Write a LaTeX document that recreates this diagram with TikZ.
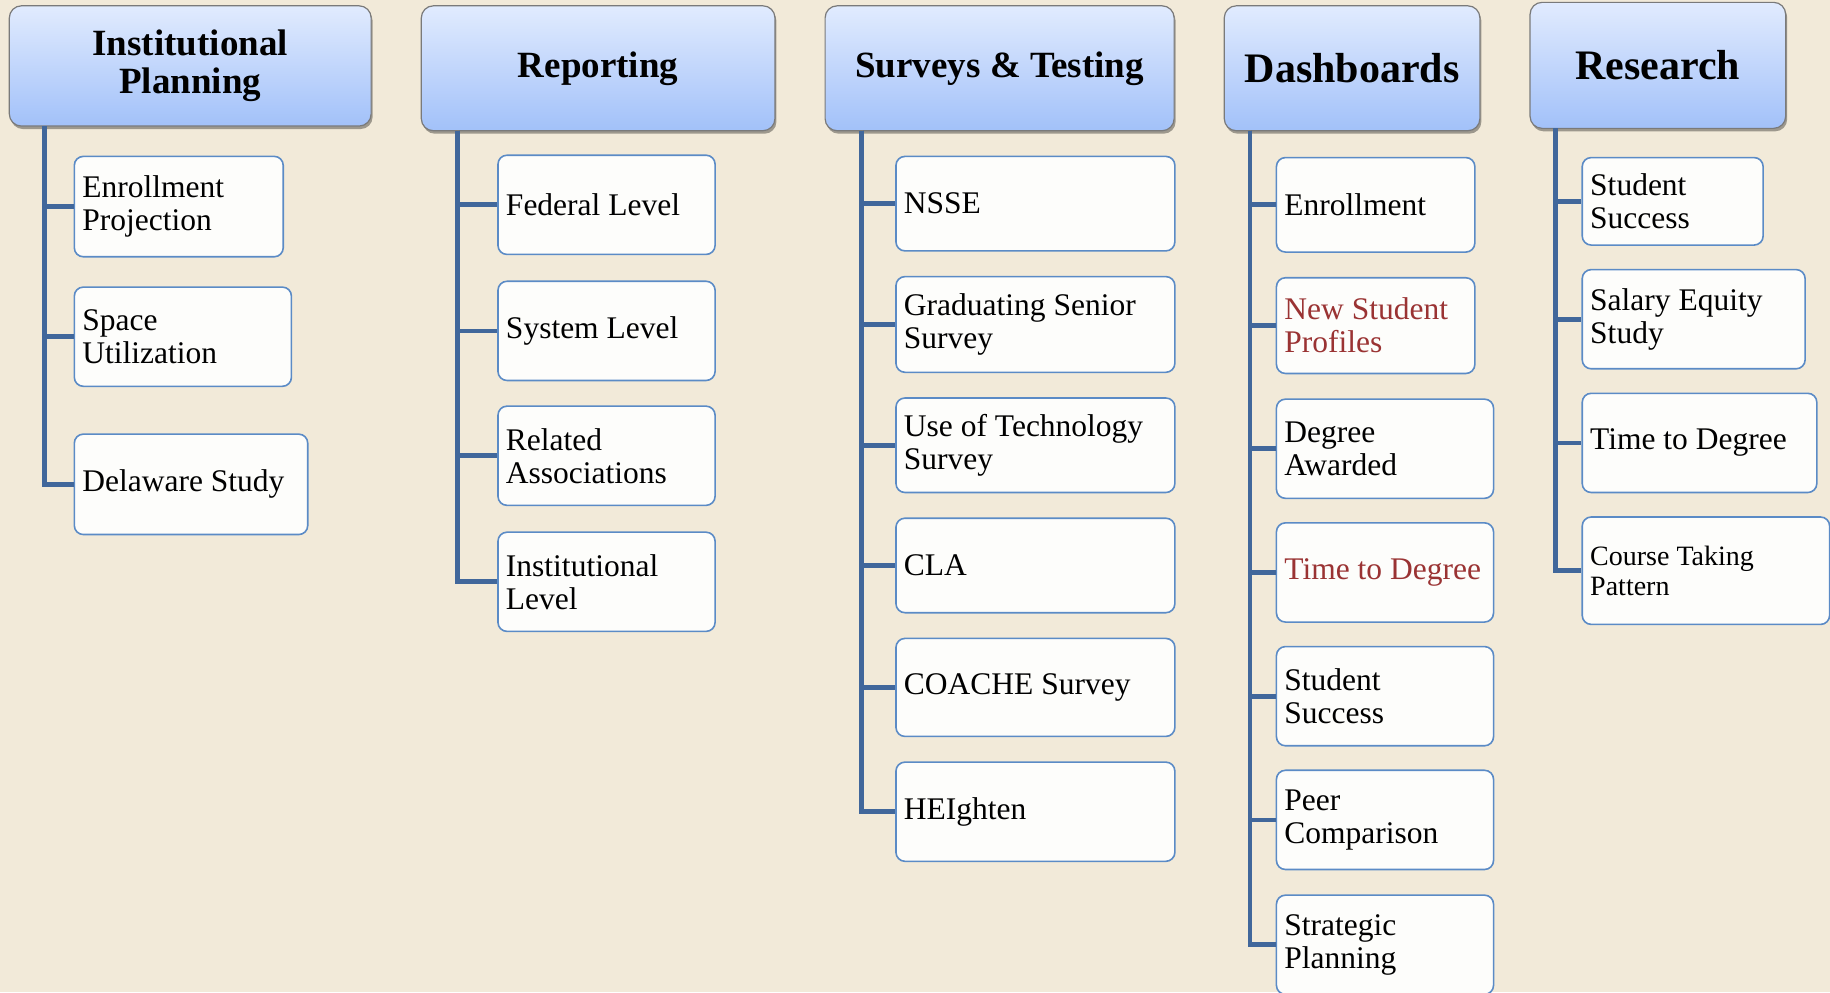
\documentclass[tikz,border=0pt]{standalone}
\usepackage{fontspec}
\setmainfont{Liberation Serif}
\usepackage{xcolor}
\usepackage{tikz}
\usetikzlibrary{calc, positioning, shadows}

\definecolor{bgbeige}{HTML}{F2EAD9}
\definecolor{trunkblue}{HTML}{41679B}
\definecolor{boxblue}{HTML}{5B8BC6}
\definecolor{boxfill}{HTML}{FDFDFB}
\definecolor{hdrtop}{HTML}{E1EBFE}
\definecolor{hdrbot}{HTML}{A2C1F9}
\definecolor{hdredge}{HTML}{7A7A7A}
\definecolor{redtext}{HTML}{9A3333}

\tikzset{
    hdr/.style={
        draw=hdredge, line width=1.2pt,
        rounded corners=12pt,
        top color=hdrtop, bottom color=hdrbot,
        align=center, inner sep=0pt,
        drop shadow={shadow xshift=1.5pt, shadow yshift=-3pt, opacity=0.35, fill=black},
        font=\bfseries\fontsize{37}{37.5}\selectfont
    },
    bighdr/.style={hdr, font=\bfseries\fontsize{42}{44}\selectfont},
    leaf/.style={
        draw=boxblue, line width=1.6pt,
        fill=boxfill, rounded corners=9pt,
        anchor=west, align=flush left,
        inner xsep=8pt, inner ysep=0pt,
        font=\fontsize{31.5}{33}\selectfont
    },
    trunk/.style={draw=trunkblue, line width=4.7pt}
}

\begin{document}
\begin{tikzpicture}[x=1.16709pt, y=-1.16709pt]

    % 0. Background
    \useasboundingbox (0,0) rectangle (1568,850);
    \fill[bgbeige] (0,0) rectangle (1568,850);

    % 1. Headers
    \node[hdr, minimum width=361.8pt, minimum height=120.2pt]
        (ip) at (163,56.5) {Institutional\\Planning};

    \node[hdr, minimum width=353.6pt, minimum height=124.9pt]
        (rep) at (512.5,58.5) {Reporting};

    \node[hdr, minimum width=349pt, minimum height=124.9pt]
        (sur) at (856.5,58.5) {Surveys \& Testing};

    \node[bighdr, minimum width=255.6pt, minimum height=124.9pt]
        (dash) at (1158.5,58.5) {Dashboards};

    \node[bighdr, minimum width=255.6pt, minimum height=126pt]
        (res) at (1420.5,56) {Research};

    % 2. Tops of the trunk lines
    \coordinate (ipT) at (38,108);
    \coordinate (repT) at (392,112);
    \coordinate (surT) at (738,112);
    \coordinate (dashT) at (1071,112);
    \coordinate (resT) at (1333,110);

    % 3. Institutional Planning
    \node[leaf, text width=192.9pt, minimum height=100.4pt]
        (ep) at (63,177) {Enrollment\\Projection};
    \node[leaf, text width=201.1pt, minimum height=99.2pt]
        (su) at (63,288.5) {Space\\Utilization};
    \node[leaf, text width=217.4pt, minimum height=100.4pt]
        (ds) at (63,415) {Delaware Study};

    % 4. Reporting
    \node[leaf, text width=201.1pt, minimum height=99.2pt]
        (fed) at (426,175.5) {Federal Level};
    \node[leaf, text width=201.1pt, minimum height=99.2pt]
        (sys) at (426,283.5) {System Level};
    \node[leaf, text width=201.1pt, minimum height=99.2pt]
        (rel) at (426,390.5) {Related\\Associations};
    \node[leaf, text width=201.1pt, minimum height=99.2pt]
        (inst) at (426,498.5) {Institutional\\Level};

    % 5. Surveys & Testing
    \node[leaf, text width=262.9pt, minimum height=94.5pt]
        (nsse) at (767,174.5) {NSSE};
    \node[leaf, text width=262.9pt, minimum height=95.7pt]
        (gss) at (767,278) {Graduating Senior\\Survey};
    \node[leaf, text width=262.9pt, minimum height=94.5pt]
        (tech) at (767,381.5) {Use of Technology\\Survey};
    \node[leaf, text width=262.9pt, minimum height=94.5pt]
        (cla) at (767,484.5) {CLA};
    \node[leaf, text width=262.9pt, minimum height=98pt]
        (coache) at (767,589) {COACHE Survey};
    \node[leaf, text width=262.9pt, minimum height=99.2pt]
        (hei) at (767,695.5) {HEIghten};

    % 6. Dashboards
    \node[leaf, text width=182.4pt, minimum height=94.5pt]
        (enr) at (1093,175.5) {Enrollment};
    \node[leaf, text width=182.4pt, minimum height=95.7pt, text=redtext]
        (nsp) at (1093,279) {New Student\\Profiles};
    \node[leaf, text width=201.1pt, minimum height=99.2pt]
        (deg) at (1093,384.5) {Degree\\Awarded};
    \node[leaf, text width=201.1pt, minimum height=99.2pt, text=redtext]
        (ttd) at (1093,490.5) {Time to Degree};
    \node[leaf, text width=201.1pt, minimum height=99.2pt]
        (dss) at (1093,596.5) {Student\\Success};
    \node[leaf, text width=201.1pt, minimum height=99.2pt]
        (peer) at (1093,702.5) {Peer\\Comparison};
    \node[leaf, text width=201.1pt, minimum height=99.2pt]
        (strat) at (1093,809.5) {Strategic\\Planning};

    % 7. Research
    \node[leaf, text width=164.9pt, minimum height=87.5pt]
        (rss) at (1355,172.5) {Student\\Success};
    \node[leaf, text width=206.9pt, minimum height=99.2pt]
        (sal) at (1355,273.5) {Salary Equity\\Study};
    \node[leaf, text width=218.6pt, minimum height=99.2pt]
        (rttd) at (1355,379.5) {Time to Degree};
    \node[leaf, text width=231.4pt, minimum height=107.4pt,
          font=\fontsize{28}{30}\selectfont]
        (ctp) at (1355,489) {Course Taking\\Pattern};

    % 8. Connectors
    \foreach \c in {ep, su, ds}
        \draw[trunk] (ipT) |- (\c.west);

    \foreach \c in {fed, sys, rel, inst}
        \draw[trunk] (repT) |- (\c.west);

    \foreach \c in {nsse, gss, tech, cla, coache, hei}
        \draw[trunk] (surT) |- (\c.west);

    \foreach \c in {enr, nsp, deg, ttd, dss, peer, strat}
        \draw[trunk] (dashT) |- (\c.west);

    \foreach \c in {rss, sal, rttd, ctp}
        \draw[trunk] (resT) |- (\c.west);

\end{tikzpicture}
\end{document}
